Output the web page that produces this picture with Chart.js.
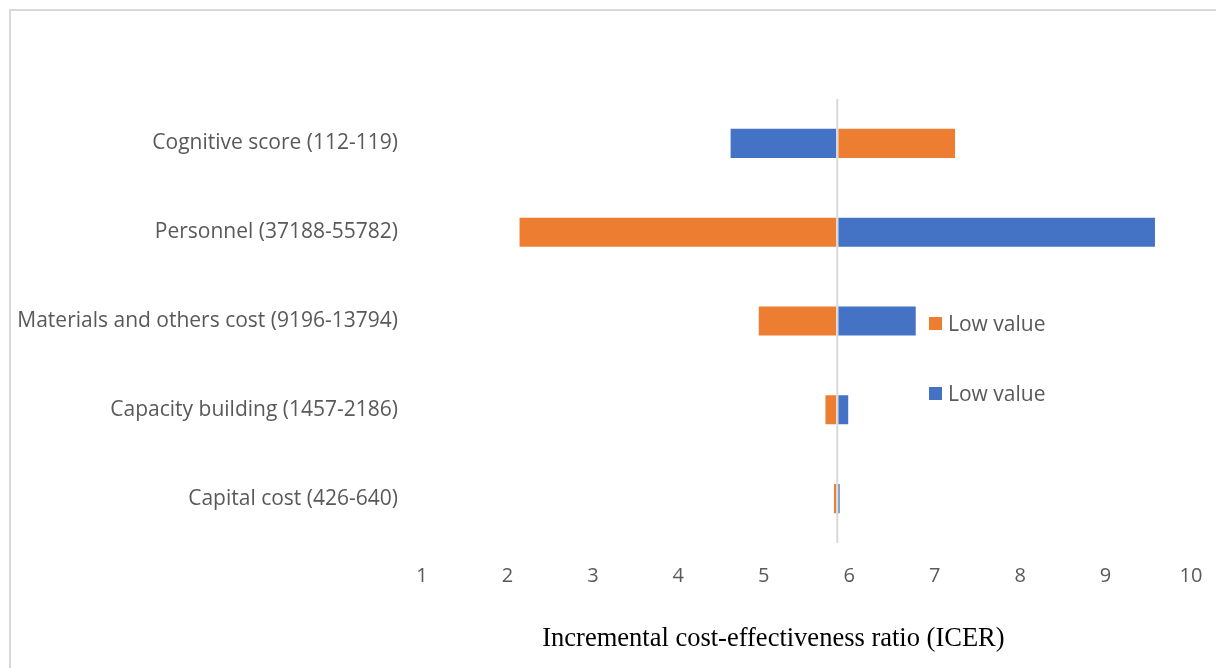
<!DOCTYPE html>
<html>
<head>
<meta charset="utf-8">
<script src="https://cdn.jsdelivr.net/npm/chart.js@4/dist/chart.umd.min.js"></script>
<style>
  html, body { margin: 0; padding: 0; background: #ffffff; }
  #wrap { position: relative; width: 1216px; height: 668px; overflow: hidden; }
  #frame { position: absolute; left: 9px; top: 9px; width: 1400px; height: 900px;
           border-left: 2px solid #d9d9d9; border-top: 2px solid #d9d9d9; box-sizing: border-box; }
  canvas { position: absolute; left: 0; top: 0; }
  .lg { position: absolute; left: 929px; font: 21px "Open Sans", sans-serif; color: #595959;
        display: flex; align-items: center; white-space: nowrap; }
  .lg i { display: inline-block; width: 13px; height: 13px; margin-right: 6px; }
</style>
</head>
<body>
<div id="wrap">
  <div id="frame"></div>
  <canvas id="c" width="1216" height="668"></canvas>
  <div class="lg" style="top:309px"><i style="background:#ED7D31"></i>Low value</div>
  <div class="lg" style="top:379px"><i style="background:#4472C4"></i>Low value</div>
</div>
<script>
// Tornado diagram: one-way sensitivity of the ICER around the base case
const categories = [
  'Cognitive score (112-119)',
  'Personnel (37188-55782)',
  'Materials and others cost (9196-13794)',
  'Capacity building (1457-2186)',
  'Capital cost (426-640)'
];
const baseICER = 5.86;
// ICER at the end of each bar (orange series / blue series)
const orangeEnds = [7.25, 2.13, 4.93, 5.71, 5.81];
const blueEnds   = [4.60, 9.59, 6.79, 6.00, 5.90];
const xTicks = { min: 1, max: 10, step: 1 };
const axisTitle = 'Incremental cost-effectiveness ratio (ICER)';

const orangeData = orangeEnds.map(v => [baseICER, v]);
const blueData = blueEnds.map(v => [baseICER, v]);

// vertical reference line at the base-case ICER
const baseLine = {
  id: 'baseLine',
  afterDatasetsDraw(chart) {
    const x = chart.scales.x.getPixelForValue(baseICER);
    const { top, bottom } = chart.chartArea;
    const ctx = chart.ctx;
    ctx.save();
    ctx.strokeStyle = '#d9d9d9';
    ctx.lineWidth = 2;
    ctx.beginPath();
    ctx.moveTo(x, top);
    ctx.lineTo(x, bottom);
    ctx.stroke();
    ctx.restore();
  }
};

// axis title set under the tick labels
const titleBelow = {
  id: 'titleBelow',
  afterDraw(chart) {
    const ctx = chart.ctx;
    ctx.save();
    ctx.font = '26.5px "Liberation Serif", "Times New Roman", serif';
    ctx.fillStyle = '#000000';
    ctx.textAlign = 'center';
    ctx.textBaseline = 'middle';
    const xs = chart.scales.x;
    ctx.fillText(axisTitle, xs.left + (xs.right - xs.left) * 0.457, 639);
    ctx.restore();
  }
};

new Chart(document.getElementById('c'), {
  type: 'bar',
  data: {
    labels: categories,
    datasets: [
      { label: 'Low value', data: orangeData, backgroundColor: '#ED7D31',
        borderColor: 'rgba(255,255,255,0.6)', borderWidth: 1, borderSkipped: false, grouped: false },
      { label: 'Low value', data: blueData, backgroundColor: '#4472C4',
        borderColor: 'rgba(255,255,255,0.6)', borderWidth: 1, borderSkipped: false, grouped: false }
    ]
  },
  options: {
    indexAxis: 'y',
    responsive: false,
    animation: false,
    layout: { padding: { top: 99, left: 0, right: 25, bottom: 0 } },
    datasets: { bar: { categoryPercentage: 1, barPercentage: 0.35 } },
    plugins: { legend: { display: false }, tooltip: { enabled: false } },
    scales: {
      x: {
        type: 'linear',
        min: xTicks.min, max: xTicks.max,
        ticks: { stepSize: xTicks.step, color: '#595959', padding: 21,
                 font: { family: '"Open Sans"', size: 20 } },
        grid: { display: false, drawTicks: false },
        border: { display: false },
        afterFit(s) { s.height = 125; s.paddingLeft = 0; s.paddingRight = 0; }
      },
      y: {
        ticks: { color: '#595959', padding: 24, font: { family: '"Open Sans"', size: 21 } },
        grid: { display: false, drawTicks: false },
        border: { display: false },
        afterFit(s) { s.width = 422; }
      }
    }
  },
  plugins: [baseLine, titleBelow]
});
</script>
</body>
</html>
